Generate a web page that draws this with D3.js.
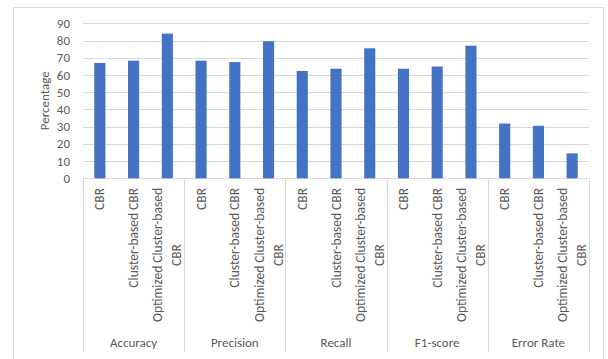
<!DOCTYPE html>
<html>
<head>
<meta charset="utf-8">
<style>
  body { margin: 0; background: #fff; }
  svg text { font-family: Calibri, Carlito, Lato, sans-serif; fill: #595959; }
</style>
<script src="https://d3js.org/d3.v7.min.js"></script>
</head>
<body>
<svg width="608" height="359"></svg>
<script>
var metrics = ["Accuracy", "Precision", "Recall", "F1-score", "Error Rate"];
var methods = [["CBR"], ["Cluster-based CBR"], ["Optimized Cluster-based", "CBR"]];
var values = [
  [67, 68.3, 84],
  [68.3, 67.5, 79.6],
  [62.3, 63.6, 75.5],
  [63.6, 64.9, 77],
  [31.8, 30.5, 14.5]
];
var yTicks = [0, 10, 20, 30, 40, 50, 60, 70, 80, 90];

var svg = d3.select("svg");
var plotL = 83, plotR = 589, plotT = 23.3, plotB = 178.3;

// outer chart border
svg.append("path")
  .attr("d", "M13.5,359V7.5H603.5V359")
  .attr("fill", "none").attr("stroke", "#d9d9d9");

var y = d3.scaleLinear().domain([0, 90]).range([plotB, plotT]);
var xg = d3.scaleBand().domain(metrics).range([plotL, plotR]);
var xb = d3.scaleBand().domain(d3.range(3)).range([0, xg.bandwidth()]).paddingInner(0.67).paddingOuter(0.335);

// gridlines
svg.append("g").selectAll("line").data(yTicks).join("line")
  .attr("x1", plotL).attr("x2", plotR)
  .attr("y1", d => Math.round(y(d)) + 0.5).attr("y2", d => Math.round(y(d)) + 0.5)
  .attr("stroke", "#d9d9d9");

// y tick labels
svg.append("g").selectAll("text").data(yTicks).join("text")
  .attr("x", 70).attr("y", d => y(d)).attr("dy", "0.35em")
  .attr("text-anchor", "end").attr("font-size", 13)
  .text(d => d);

svg.append("text")
  .attr("transform", "translate(49," + ((plotT + plotB) / 2) + ") rotate(-90)")
  .attr("text-anchor", "middle").attr("font-size", 13)
  .text("Percentage");

// bars
var g = svg.append("g").selectAll("g").data(metrics).join("g")
  .attr("transform", d => "translate(" + xg(d) + ",0)");
g.selectAll("rect").data((d, i) => values[i]).join("rect")
  .attr("x", (d, j) => xb(j))
  .attr("width", xb.bandwidth())
  .attr("y", d => y(d))
  .attr("height", d => plotB - y(d))
  .attr("fill", "#4472c4");

// category axis separators
var seps = metrics.map(m => xg(m)).concat([plotR]);
svg.append("g").selectAll("line").data(seps).join("line")
  .attr("x1", d => Math.round(d) + 0.5).attr("x2", d => Math.round(d) + 0.5)
  .attr("y1", plotB).attr("y2", 352)
  .attr("stroke", "#d9d9d9");

// method labels, rotated
var fs = 13.5;
g.each(function(m) {
  var grp = d3.select(this);
  methods.forEach(function(lines, j) {
    var cx = xb(j) + xb.bandwidth() / 2;
    var t = grp.append("text")
      .attr("font-size", fs)
      .attr("text-anchor", "middle");
    lines.forEach(function(s, k) {
      t.append("tspan").attr("x", 0)
        .attr("dy", k === 0 ? 0 : 19)
        .text(s);
    });
    var w = d3.max(t.selectAll("tspan").nodes(), n => n.getComputedTextLength());
    var off = (lines.length - 1) * 19 / 2;
    t.attr("transform", "translate(" + (cx + 4.5 - off) + "," + (188 + w / 2) + ") rotate(-90)");
  });
});

// metric labels
svg.append("g").selectAll("text").data(metrics).join("text")
  .attr("x", d => xg(d) + xg.bandwidth() / 2).attr("y", 347)
  .attr("text-anchor", "middle").attr("font-size", 13)
  .text(d => d);
</script>
</body>
</html>
